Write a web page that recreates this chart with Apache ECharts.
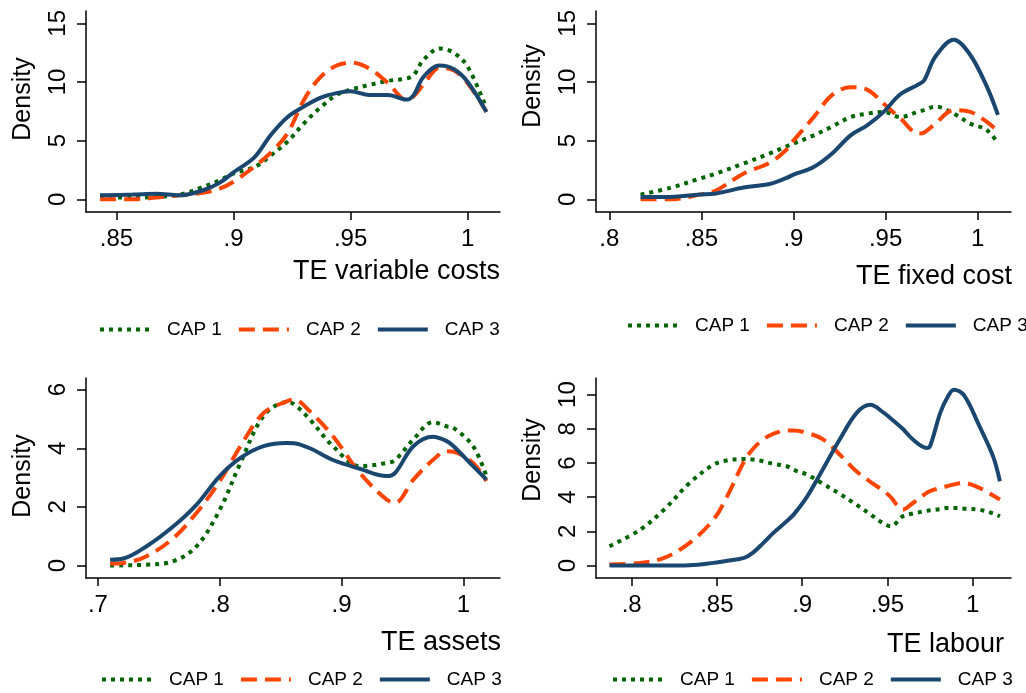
<!DOCTYPE html>
<html>
<head>
<meta charset="utf-8">
<script src="https://cdn.jsdelivr.net/npm/echarts@6/dist/echarts.min.js"></script>
<style>
  html, body { margin: 0; padding: 0; background: #fff; }
  #chart { width: 1026px; height: 693px; }
</style>
</head>
<body>
<div id="chart"></div>
<script>
// Kernel density estimates

// TE variable costs
var varX = [0.843, 0.857, 0.867, 0.877, 0.887, 0.894, 0.900, 0.909, 0.916, 0.923, 0.930, 0.937, 0.944, 0.950, 0.958, 0.966, 0.974, 0.977, 0.981, 0.988, 0.994, 1.000, 1.008];
var varCap1 = [0.15, 0.15, 0.2, 0.4, 1.05, 1.6, 2.2, 2.75, 3.75, 4.9, 6.45, 7.8, 8.9, 9.35, 9.75, 10.1, 10.3, 10.6, 11.85, 12.85, 12.5, 11.3, 7.75];
var varCap2 = [0, 0, 0.15, 0.34, 0.55, 0.9, 1.5, 2.8, 4.0, 5.6, 8.45, 10.4, 11.4, 11.65, 11.15, 9.9, 8.45, 8.8, 9.75, 11.2, 11.0, 9.9, 7.45];
var varCap3 = [0.34, 0.4, 0.48, 0.34, 0.77, 1.4, 2.3, 3.6, 5.5, 7.0, 7.9, 8.65, 9.05, 9.2, 8.9, 8.9, 8.5, 8.9, 10.4, 11.4, 11.1, 10.0, 7.45];

// TE fixed cost
var fixX = [0.817, 0.833, 0.849, 0.858, 0.873, 0.887, 0.896, 0.900, 0.911, 0.921, 0.931, 0.940, 0.949, 0.958, 0.968, 0.971, 0.977, 0.987, 0.996, 1.005, 1.011];
var fixCap1 = [0.4, 0.97, 1.75, 2.2, 3.05, 3.9, 4.5, 4.75, 5.45, 6.2, 7.0, 7.3, 7.45, 7.0, 7.5, 7.6, 7.9, 7.3, 6.45, 5.9, 4.75];
var fixCap2 = [0, 0, 0.4, 0.75, 2.2, 3.1, 4.2, 5.0, 7.0, 8.9, 9.55, 9.35, 8.15, 6.9, 5.6, 5.7, 6.45, 7.6, 7.45, 6.6, 5.8];
var fixCap3 = [0.2, 0.2, 0.4, 0.5, 1.0, 1.3, 1.8, 2.1, 2.75, 3.9, 5.45, 6.3, 7.45, 8.95, 9.8, 10.15, 12.15, 13.6, 12.3, 9.6, 7.2];

// TE assets
var assX = [0.710, 0.721, 0.740, 0.762, 0.781, 0.800, 0.817, 0.836, 0.855, 0.861, 0.874, 0.893, 0.915, 0.937, 0.944, 0.959, 0.975, 0.986, 0.992, 1.008, 1.019];
var assCap1 = [0, 0.01, 0.03, 0.15, 0.66, 1.9, 3.5, 5.1, 5.57, 5.5, 4.98, 4.07, 3.39, 3.5, 3.6, 4.3, 4.89, 4.75, 4.69, 4.07, 3.05];
var assCap2 = [0.07, 0.09, 0.32, 0.94, 1.8, 2.88, 4.07, 5.2, 5.6, 5.66, 5.26, 4.41, 3.16, 2.25, 2.14, 2.93, 3.6, 3.9, 3.88, 3.5, 2.88];
var assCap3 = [0.2, 0.24, 0.66, 1.34, 2.08, 3.05, 3.67, 4.07, 4.18, 4.17, 4.0, 3.6, 3.3, 3.05, 3.16, 4.07, 4.39, 4.25, 4.07, 3.39, 2.93];

// TE labour
var labX = [0.787, 0.805, 0.819, 0.834, 0.848, 0.856, 0.866, 0.871, 0.877, 0.883, 0.891, 0.895, 0.903, 0.912, 0.922, 0.932, 0.940, 0.948, 0.952, 0.959, 0.965, 0.973, 0.975, 0.981, 0.985, 0.989, 0.995, 1.004, 1.012, 1.016];
var labCap1 = [1.13, 2.1, 3.27, 4.83, 5.9, 6.15, 6.24, 6.2, 6.1, 5.95, 5.81, 5.6, 5.32, 4.8, 4.2, 3.55, 3.0, 2.45, 2.3, 2.88, 3.05, 3.2, 3.24, 3.3, 3.37, 3.37, 3.33, 3.27, 3.05, 2.88];
var labCap2 = [0.06, 0.16, 0.45, 1.33, 2.69, 4.05, 6.1, 6.8, 7.37, 7.7, 7.9, 7.9, 7.75, 7.4, 6.5, 5.5, 4.9, 4.35, 4.0, 3.27, 3.66, 4.25, 4.35, 4.55, 4.64, 4.75, 4.83, 4.54, 4.1, 3.86];
var labCap3 = [0, 0, 0, 0.02, 0.16, 0.28, 0.45, 0.74, 1.3, 1.9, 2.6, 2.98, 4.05, 5.6, 7.37, 8.93, 9.4, 8.93, 8.6, 8.0, 7.37, 6.88, 6.98, 8.93, 9.8, 10.29, 9.95, 8.15, 6.39, 4.93];

// axis ticks
var varTicks = [0.85, 0.9, 0.95, 1];
var fixTicks = [0.8, 0.85, 0.9, 0.95, 1];
var assTicks = [0.7, 0.8, 0.9, 1];
var labTicks = [0.8, 0.85, 0.9, 0.95, 1];
var densTicks15 = [0, 5, 10, 15];
var densTicks6 = [0, 2, 4, 6];
var densTicks10 = [0, 2, 4, 6, 8, 10];

var seriesNames = ['CAP 1', 'CAP 2', 'CAP 3'];
var titles = ['TE variable costs', 'TE fixed cost', 'TE assets', 'TE labour'];

var FONT = '"Liberation Sans", Arial, sans-serif';
var colors = ['#006400', '#ff4500', '#1a476f'];
var dashes = [[4, 5], [16, 8], 'solid'];

var chartDom = document.getElementById('chart');
var myChart = echarts.init(chartDom);

// panel layout: grid box, axis ranges, label tweaks
var panels = [
    { x: varX, ys: [varCap1, varCap2, varCap3], xt: varTicks, yt: densTicks15,
      grid: { left: 86, top: 11, width: 414, height: 201 },
      xr: [0.837, 1.0138], yr: [-1.084, 16.05], namePad: 25,
      legend: { left: 98, top: 320 }, title: { right: 526, top: 258 } },
    { x: fixX, ys: [fixCap1, fixCap2, fixCap3], xt: fixTicks, yt: densTicks15,
      grid: { left: 596, top: 11, width: 415, height: 201 },
      xr: [0.7928, 1.0181], yr: [-1.084, 16.05], namePad: 51,
      legend: { left: 626, top: 316 }, title: { right: 14, top: 263 } },
    { x: assX, ys: [assCap1, assCap2, assCap3], xt: assTicks, yt: densTicks6,
      grid: { left: 86, top: 378, width: 414, height: 200 },
      xr: [0.6902, 1.0301], yr: [-0.423, 6.395], namePad: 4,
      legend: { left: 100, top: 670 }, title: { right: 525, top: 629 } },
    { x: labX, ys: [labCap1, labCap2, labCap3], xt: labTicks, yt: densTicks10,
      grid: { left: 596, top: 378, width: 415, height: 200 },
      xr: [0.7791, 1.0225], yr: [-0.725, 10.97], namePad: 36,
      legend: { left: 611, top: 670 }, title: { right: 22, top: 631 } }
];

function tickText(v) {
    return String(v).replace(/^0\./, '.');
}

var grids = [], xAxes = [], yAxes = [], series = [], legends = [], titleList = [];

panels.forEach(function (p, k) {
    grids.push(p.grid);
    xAxes.push({
        type: 'value', gridIndex: k, min: p.xr[0], max: p.xr[1],
        axisLine: { onZero: false, lineStyle: { color: '#000', width: 1.5 } },
        axisTick: { customValues: p.xt, length: 8, lineStyle: { color: '#000', width: 1.5 } },
        axisLabel: { customValues: p.xt, formatter: tickText, margin: 15, color: '#000', fontSize: 24, fontFamily: FONT },
        splitLine: { show: false }
    });
    yAxes.push({
        type: 'value', gridIndex: k, min: p.yr[0], max: p.yr[1],
        name: 'Density', nameLocation: 'middle', nameRotate: 90, nameGap: 50,
        nameTextStyle: { color: '#000', fontSize: 25, fontFamily: FONT, padding: [0, 0, 0, p.namePad] },
        axisLine: { onZero: false, lineStyle: { color: '#000', width: 1.5 } },
        axisTick: { customValues: p.yt, length: 9, lineStyle: { color: '#000', width: 1.5 } },
        axisLabel: { customValues: p.yt, rotate: 90, margin: 16, color: '#000', fontSize: 24, fontFamily: FONT },
        splitLine: { show: false }
    });
    p.ys.forEach(function (vals, s) {
        series.push({
            name: seriesNames[s],
            type: 'line',
            xAxisIndex: k,
            yAxisIndex: k,
            data: p.x.map(function (x, i) { return [x, vals[i]]; }),
            smooth: 0.35,
            symbol: 'none',
            silent: true,
            itemStyle: { color: colors[s] },
            lineStyle: { color: colors[s], width: 4, type: dashes[s], cap: 'butt' }
        });
    });
    legends.push({
        left: p.legend.left, top: p.legend.top, width: 520, padding: 0,
        data: seriesNames,
        itemWidth: 50, itemHeight: 20, itemGap: 15,
        itemStyle: { opacity: 0 },
        lineStyle: { width: 4 },
        textStyle: { color: '#000', fontSize: 19, fontFamily: FONT, padding: [0, 0, 0, 12] }
    });
    titleList.push({
        text: titles[k], right: p.title.right, top: p.title.top, padding: 0,
        textStyle: { color: '#000', fontSize: 27, fontWeight: 'normal', fontFamily: FONT }
    });
});

var option = {
    backgroundColor: '#fff',
    animation: false,
    title: titleList,
    legend: legends,
    grid: grids,
    xAxis: xAxes,
    yAxis: yAxes,
    series: series
};

myChart.setOption(option);
</script>
</body>
</html>
